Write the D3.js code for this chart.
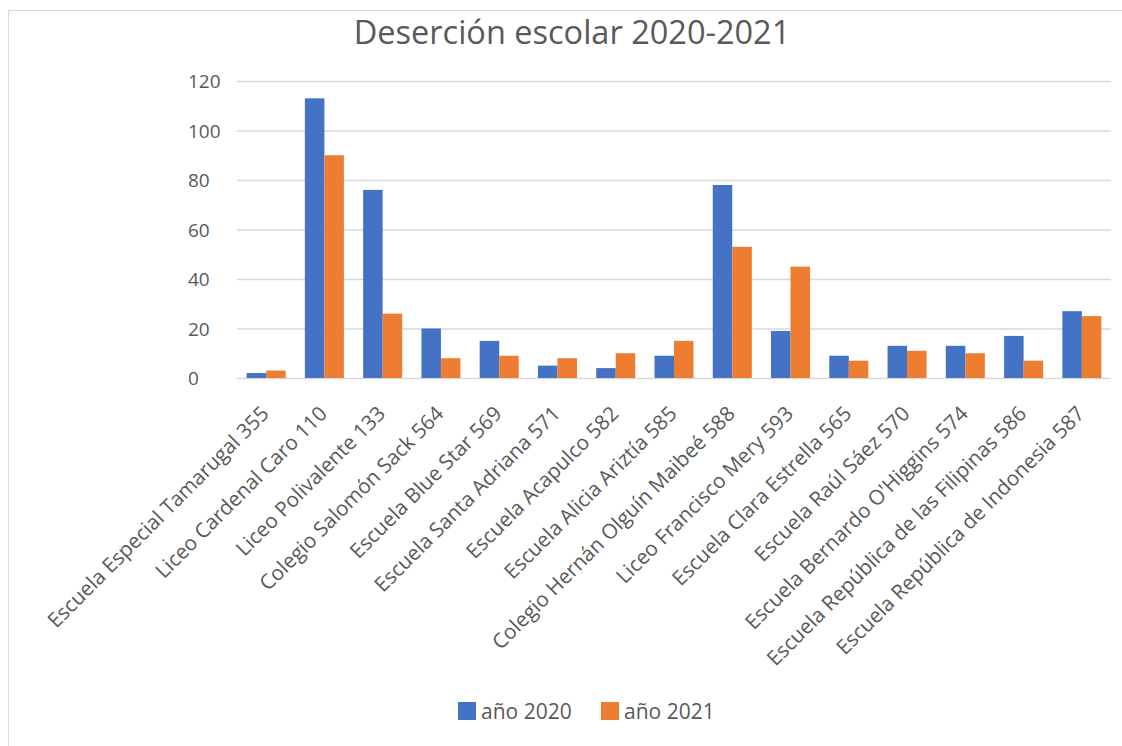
<!DOCTYPE html>
<html>
<head>
<meta charset="utf-8">
<script src="https://cdn.jsdelivr.net/npm/d3@7"></script>
<style>
  body { margin: 0; background: #fff; }
  svg { display: block; font-family: "Open Sans", sans-serif; }
</style>
</head>
<body>
<svg width="1122" height="746"></svg>
<script>
// chart data
var schools = [
  "Escuela Especial Tamarugal 355",
  "Liceo Cardenal Caro 110",
  "Liceo Polivalente 133",
  "Colegio Salomón Sack 564",
  "Escuela Blue Star 569",
  "Escuela Santa Adriana 571",
  "Escuela Acapulco 582",
  "Escuela Alicia Ariztía 585",
  "Colegio Hernán Olguín Maibeé 588",
  "Liceo Francisco Mery 593",
  "Escuela Clara Estrella 565",
  "Escuela Raúl Sáez 570",
  "Escuela Bernardo O'Higgins 574",
  "Escuela República de las Filipinas 586",
  "Escuela República de Indonesia 587"
];
var year2020 = [2, 113, 76, 20, 15, 5, 4, 9, 78, 19, 9, 13, 13, 17, 27];
var year2021 = [3, 90, 26, 8, 9, 8, 10, 15, 53, 45, 7, 11, 10, 7, 25];
var seriesNames = ["año 2020", "año 2021"];
var yTicks = [0, 20, 40, 60, 80, 100, 120];

var colors = ["#4472C4", "#ED7D31"];
var textColor = "#595959";

var svg = d3.select("svg");

// outer chart frame
svg.append("rect")
    .attr("x", 8.5).attr("y", 10.5)
    .attr("width", 1130).attr("height", 760)
    .attr("fill", "none")
    .attr("stroke", "#d9d9d9");

var plotLeft = 237, plotRight = 1111, plotTop = 81, plotBottom = 378;

var x = d3.scaleBand()
    .domain(schools)
    .range([plotLeft, plotRight])
    .paddingInner(0.33)
    .paddingOuter(0.165);

var x1 = d3.scaleBand()
    .domain(seriesNames)
    .range([0, x.bandwidth()]);

var y = d3.scaleLinear()
    .domain([0, 120])
    .range([plotBottom, plotTop]);

// title
svg.append("text")
    .attr("x", 572).attr("y", 44)
    .attr("text-anchor", "middle")
    .attr("font-size", 32.5)
    .attr("fill", textColor)
    .text("Deserción escolar 2020-2021");

// gridlines
svg.append("g")
    .selectAll("line")
    .data(yTicks)
    .enter().append("line")
    .attr("x1", plotLeft).attr("x2", plotRight)
    .attr("y1", function(d) { return y(d) + 0.5; })
    .attr("y2", function(d) { return y(d) + 0.5; })
    .attr("stroke", "#d9d9d9")
    .attr("stroke-width", 1.5);

// y tick labels
svg.append("g")
    .selectAll("text")
    .data(yTicks)
    .enter().append("text")
    .attr("x", 188)
    .attr("y", function(d) { return y(d) + 7; })
    .attr("font-size", 19)
    .attr("fill", textColor)
    .text(function(d) { return d; });

// bars
var rows = schools.map(function(s, i) {
  return { school: s, values: [year2020[i], year2021[i]] };
});

var groups = svg.append("g")
    .selectAll("g")
    .data(rows)
    .enter().append("g")
    .attr("transform", function(d) { return "translate(" + x(d.school) + ",0)"; });

groups.selectAll("rect")
    .data(function(d) { return d.values.map(function(v, k) { return { name: seriesNames[k], v: v, k: k }; }); })
    .enter().append("rect")
    .attr("x", function(d) { return x1(d.name); })
    .attr("width", x1.bandwidth())
    .attr("y", function(d) { return y(d.v); })
    .attr("height", function(d) { return y(0) - y(d.v); })
    .attr("fill", function(d) { return colors[d.k]; });

// x labels, rotated
svg.append("g")
    .selectAll("text")
    .data(schools)
    .enter().append("text")
    .attr("transform", function(d) {
      return "translate(" + (x(d) + x.bandwidth() / 2 + 4) + "," + (plotBottom + 37) + ") rotate(-45)";
    })
    .attr("text-anchor", "end")
    .attr("font-size", 20.6)
    .attr("fill", textColor)
    .text(function(d) { return d; });

// legend
var legendX = [458, 601];
var legend = svg.append("g")
    .selectAll("g")
    .data(seriesNames)
    .enter().append("g")
    .attr("transform", function(d, i) { return "translate(" + legendX[i] + ",702)"; });

legend.append("rect")
    .attr("width", 18).attr("height", 18)
    .attr("fill", function(d, i) { return colors[i]; });

legend.append("text")
    .attr("x", 23).attr("y", 17)
    .attr("font-size", 21)
    .attr("fill", textColor)
    .text(function(d) { return d; });
</script>
</body>
</html>
